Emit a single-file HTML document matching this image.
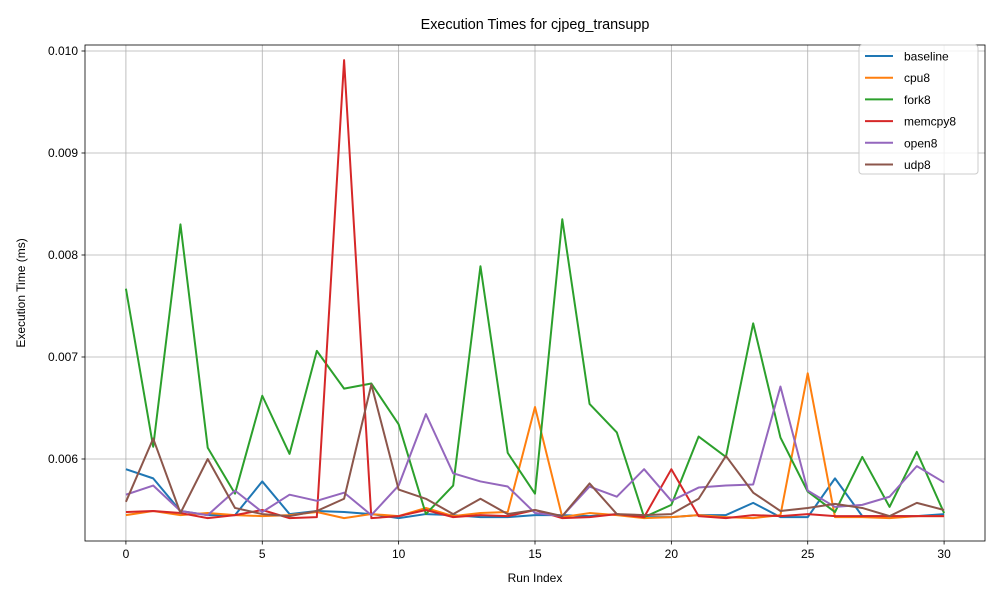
<!DOCTYPE html>
<html><head><meta charset="utf-8"><style>
body{margin:0;background:#fff;font-family:"Liberation Sans",sans-serif}
svg text{font-family:"Liberation Sans",sans-serif;fill:#000}
</style></head><body>
<svg id="chart" width="1000" height="600" xmlns="http://www.w3.org/2000/svg">
<rect width="1000" height="600" fill="#fff"/>
<g id="grid"></g><g id="series"></g><g id="axes"></g><g id="legend"></g>
</svg>
<script>
const runIndex=[0,1,2,3,4,5,6,7,8,9,10,11,12,13,14,15,16,17,18,19,20,21,22,23,24,25,26,27,28,29,30];
const seriesNames=["baseline","cpu8","fork8","memcpy8","open8","udp8"];
const seriesColors=["#1f77b4","#ff7f0e","#2ca02c","#d62728","#9467bd","#8c564b"];
const baseline=[0.00590,0.00581,0.00549,0.00545,0.00545,0.00578,0.00546,0.00549,0.00548,0.00546,0.00542,0.00546,0.00545,0.00543,0.00543,0.00545,0.00545,0.00544,0.00546,0.00543,0.00543,0.00545,0.00545,0.00557,0.00543,0.00543,0.00581,0.00544,0.00544,0.00544,0.00546];
const cpu8=[0.00545,0.00549,0.00545,0.00547,0.00545,0.00544,0.00545,0.00548,0.00542,0.00546,0.00544,0.00552,0.00544,0.00547,0.00548,0.00651,0.00543,0.00547,0.00545,0.00542,0.00543,0.00545,0.00543,0.00542,0.00545,0.00684,0.00543,0.00543,0.00542,0.00544,0.00544];
const fork8=[0.00767,0.00612,0.00830,0.00611,0.00566,0.00662,0.00605,0.00706,0.00669,0.00674,0.00634,0.00546,0.00574,0.00789,0.00606,0.00566,0.00835,0.00654,0.00626,0.00543,0.00555,0.00622,0.00602,0.00733,0.00621,0.00568,0.00548,0.00602,0.00553,0.00607,0.00547];
const memcpy8=[0.00548,0.00549,0.00547,0.00542,0.00545,0.00550,0.00542,0.00543,0.00991,0.00542,0.00544,0.00550,0.00543,0.00545,0.00544,0.00550,0.00542,0.00543,0.00546,0.00543,0.00590,0.00544,0.00542,0.00545,0.00544,0.00546,0.00544,0.00544,0.00544,0.00544,0.00544];
const open8=[0.00565,0.00574,0.00549,0.00545,0.00569,0.00548,0.00565,0.00559,0.00567,0.00545,0.00574,0.00644,0.00586,0.00578,0.00573,0.00547,0.00544,0.00573,0.00563,0.00590,0.00559,0.00572,0.00574,0.00575,0.00671,0.00569,0.00553,0.00555,0.00563,0.00593,0.00577];
const udp8=[0.00558,0.00620,0.00547,0.00600,0.00552,0.00546,0.00544,0.00549,0.00561,0.00673,0.00570,0.00561,0.00546,0.00561,0.00546,0.00550,0.00544,0.00576,0.00546,0.00545,0.00546,0.00561,0.00603,0.00567,0.00549,0.00552,0.00556,0.00552,0.00544,0.00557,0.00550];
const xTicks=[0,5,10,15,20,25,30];
const yTicks=[0.006,0.007,0.008,0.009,0.010];
const yTickLabels=["0.006","0.007","0.008","0.009","0.010"];
const yDomain=[0.005196,0.0100588];

const NS="http://www.w3.org/2000/svg";
const L=85,R=985,T=45,B=541;
const allSeries=[baseline,cpu8,fork8,memcpy8,open8,udp8];
const ymin=yDomain[0],ymax=yDomain[1];
const xmin=runIndex[0]-(runIndex[runIndex.length-1]-runIndex[0])*0.05;
const xmax=runIndex[runIndex.length-1]+(runIndex[runIndex.length-1]-runIndex[0])*0.05;
const xs=v=>L+(v-xmin)/(xmax-xmin)*(R-L);
const ys=v=>B-(v-ymin)/(ymax-ymin)*(B-T);
function mk(tag,attrs,parent){const e=document.createElementNS(NS,tag);for(const k in attrs)e.setAttribute(k,attrs[k]);parent.appendChild(e);return e;}
const grid=document.getElementById('grid'),axes=document.getElementById('axes'),ser=document.getElementById('series'),leg=document.getElementById('legend');
xTicks.forEach(t=>{const x=xs(t);
 const g=mk('line',{x1:x,x2:x,y1:T,y2:B,stroke:'#b0b0b0','stroke-width':0.8},grid);
 
 
 mk('line',{x1:x,x2:x,y1:B,y2:B+3.5,stroke:'#000','stroke-width':0.8},axes);
 const tx=mk('text',{x:x,y:B+17,'text-anchor':'middle','font-size':12},axes);tx.textContent=t;
 
 
});
yTicks.forEach((t,i)=>{const y=ys(t);
 const g=mk('line',{x1:L,x2:R,y1:y,y2:y,stroke:'#b0b0b0','stroke-width':0.8},grid);
 
 
 mk('line',{x1:L-3.5,x2:L,y1:y,y2:y,stroke:'#000','stroke-width':0.8},axes);
 const tx=mk('text',{x:L-7,y:y+4,'text-anchor':'end','font-size':12},axes);tx.textContent=yTickLabels[i];
 
 
});
const frame=mk('rect',{x:L,y:T,width:R-L,height:B-T,fill:'none',stroke:'#000','stroke-width':0.8},axes);


let t1=mk('text',{x:(L+R)/2,y:T-16,'text-anchor':'middle','font-size':14.4},axes);t1.textContent='Execution Times for cjpeg_transupp';


let t2=mk('text',{x:(L+R)/2,y:582,'text-anchor':'middle','font-size':12},axes);t2.textContent='Run Index';


let t3=mk('text',{x:25,y:(T+B)/2,'text-anchor':'middle','font-size':12,transform:'rotate(-90 25 '+((T+B)/2)+')'},axes);t3.textContent='Execution Time (ms)';


allSeries.forEach((s,i)=>{
 const p=mk('polyline',{points:s.map((v,j)=>xs(runIndex[j])+','+ys(v)).join(' '),fill:'none',stroke:seriesColors[i],'stroke-width':2,'stroke-linejoin':'round'},ser);
 
 
});
const lb=mk('rect',{x:859,y:45,width:119,height:129,rx:3,fill:'#fff','fill-opacity':0.8,stroke:'#ccc'},leg);


seriesNames.forEach((n,i)=>{const y=56+i*21.7;
 const l=mk('line',{x1:865,x2:893,y1:y,y2:y,stroke:seriesColors[i],'stroke-width':2},leg);
 
 
 const tx=mk('text',{x:904,y:y+4.5,'font-size':12},leg);tx.textContent=n;
 
 
});
</script>
</body></html>
